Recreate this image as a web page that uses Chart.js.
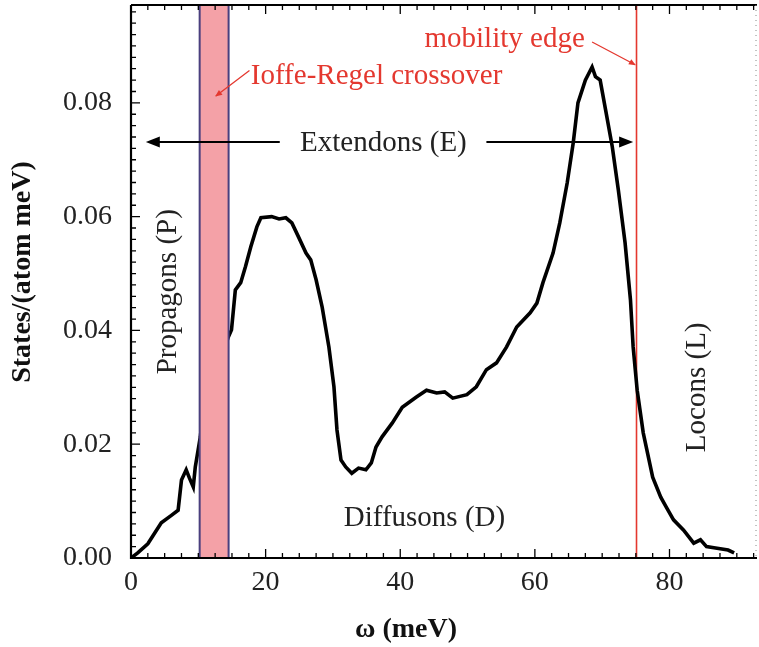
<!DOCTYPE html>
<html>
<head>
<meta charset="utf-8">
<script src="https://cdn.jsdelivr.net/npm/chart.js@4/dist/chart.umd.min.js"></script>
<style>
  html, body { margin: 0; padding: 0; background: #fff; }
  #wrap { width: 759px; height: 647px; }
</style>
</head>
<body>
<div id="wrap"><canvas id="dosChart" width="759" height="647"></canvas></div>
<script>
// phonon energy (meV) and density of states
const omega = [0, 1.0, 2.5, 4.5, 6.0, 7.0, 7.5, 8.2, 8.7, 9.25, 9.55, 10.3, 10.45,
  12.5, 14.48, 14.93, 15.5, 16.3, 17.0, 17.8, 18.7, 19.3, 20.9, 22.0, 23.0, 23.9,
  24.9, 26.0, 26.7, 27.5, 28.4, 29.4, 30.15, 30.6, 31.2, 31.9, 32.8, 33.8, 34.9,
  35.7, 36.4, 37.3, 38.8, 40.3, 42.4, 43.9, 45.4, 46.6, 47.8, 49.9, 51.3, 52.8,
  54.3, 55.8, 57.3, 59.3, 60.3, 61.2, 62.7, 63.7, 64.8, 65.7, 66.4, 67.5, 68.5,
  69.0, 69.7, 70.5, 71.5, 72.4, 73.4, 74.2, 74.6, 75.2, 76.1, 77.5, 78.7, 79.5,
  80.6, 82.1, 83.6, 84.6, 85.5, 86.6, 88.7, 89.6];
const dos = [0, 0.0009, 0.0025, 0.0062, 0.0075, 0.0084, 0.0137, 0.0155, 0.0140, 0.0125, 0.0160, 0.0213, 0.0230,
  0.0320, 0.0389, 0.0401, 0.0471, 0.0484, 0.0512, 0.0547, 0.0582, 0.0598, 0.0600, 0.0596, 0.0598, 0.0589,
  0.0564, 0.0536, 0.0524, 0.0489, 0.0441, 0.0371, 0.0301, 0.0225, 0.0172, 0.0160, 0.0149, 0.0158, 0.0155,
  0.0167, 0.0195, 0.0213, 0.0237, 0.0265, 0.0283, 0.0295, 0.0290, 0.0292, 0.0281, 0.0287, 0.0301, 0.0331,
  0.0343, 0.0371, 0.0406, 0.0431, 0.0448, 0.0484, 0.0536, 0.0589, 0.0659, 0.0730, 0.0800, 0.0840, 0.0863,
  0.0846, 0.0840, 0.0788, 0.0723, 0.0647, 0.0554, 0.0454, 0.0371, 0.0295, 0.0220, 0.0142, 0.0107, 0.0090,
  0.0067, 0.0049, 0.0026, 0.0032, 0.0020, 0.0018, 0.0014, 0.0009];

const xTicks = [0, 20, 40, 60, 80];
const yTicks = [0.00, 0.02, 0.04, 0.06, 0.08];

// regions marked on the figure
const ioffeRegel = [10.2, 14.5];
const mobilityEdge = 75.1;

const SERIF = '"Liberation Serif", "Times New Roman", serif';
const RED = '#e4382f';

function arrowHead(c, x1, y1, x2, y2, size, width) {
  const a = Math.atan2(y2 - y1, x2 - x1);
  c.beginPath();
  c.moveTo(x2, y2);
  c.lineTo(x2 - size * Math.cos(a) + width * Math.sin(a), y2 - size * Math.sin(a) - width * Math.cos(a));
  c.lineTo(x2 - size * Math.cos(a) - width * Math.sin(a), y2 - size * Math.sin(a) + width * Math.cos(a));
  c.closePath();
  c.fill();
}

function noPad(s) {
  s.paddingTop = 0; s.paddingBottom = 0; s.paddingLeft = 0; s.paddingRight = 0;
}

const decor = {
  id: 'decor',
  beforeDatasetsDraw(chart) {
    const c = chart.ctx, xs = chart.scales.x, a = chart.chartArea;
    c.save();
    // mobility edge line
    c.strokeStyle = RED;
    c.lineWidth = 1.6;
    const mx = xs.getPixelForValue(mobilityEdge);
    c.beginPath(); c.moveTo(mx, a.top); c.lineTo(mx, a.bottom); c.stroke();
    c.restore();
  },
  afterDatasetsDraw(chart) {
    const c = chart.ctx, xs = chart.scales.x, ys = chart.scales.y, a = chart.chartArea;
    const X = v => xs.getPixelForValue(v), Y = v => ys.getPixelForValue(v);
    c.save();

    // Ioffe-Regel band
    const bx1 = X(ioffeRegel[0]), bx2 = X(ioffeRegel[1]);
    c.fillStyle = '#f4a1a7';
    c.fillRect(bx1, a.top, bx2 - bx1, a.bottom - a.top);
    c.strokeStyle = '#4a3f7e';
    c.lineWidth = 2;
    c.beginPath();
    c.moveTo(bx1, a.top); c.lineTo(bx1, a.bottom);
    c.moveTo(bx2, a.top); c.lineTo(bx2, a.bottom);
    c.stroke();

    // frame: left, bottom, top solid; right dotted
    c.strokeStyle = '#000';
    c.lineWidth = 2.2;
    c.beginPath();
    c.moveTo(a.left, a.top); c.lineTo(a.right, a.top);
    c.moveTo(a.left, a.top); c.lineTo(a.left, a.bottom); c.lineTo(a.right, a.bottom);
    c.stroke();
    c.strokeStyle = '#888';
    c.lineWidth = 1;
    c.setLineDash([1, 4]);
    c.beginPath(); c.moveTo(a.right - 1, a.top); c.lineTo(a.right - 1, a.bottom); c.stroke();
    c.setLineDash([]);

    // inward ticks
    c.strokeStyle = '#000';
    c.lineWidth = 1.3;
    c.beginPath();
    for (let v = 0; v <= xs.max + 1e-9; v += 2.5) {
      const px = X(v);
      const len = (Math.abs(v % 20) < 1e-6) ? 9 : 5;
      c.moveTo(px, a.bottom); c.lineTo(px, a.bottom - len);
      c.moveTo(px, a.top); c.lineTo(px, a.top + len);
    }
    for (let i = 0; i * 0.002 <= ys.max + 1e-9; i++) {
      const py = Y(i * 0.002);
      const len = (i % 10 === 0) ? 9 : 5;
      c.moveTo(a.left, py); c.lineTo(a.left + len, py);
    }
    c.stroke();

    // Extendons arrow
    c.fillStyle = '#000';
    c.strokeStyle = '#000';
    c.lineWidth = 2;
    const ay = Y(0.0731);
    c.beginPath();
    c.moveTo(X(3.4), ay); c.lineTo(X(22.1), ay);
    c.moveTo(X(52.8), ay); c.lineTo(X(73.4), ay);
    c.stroke();
    arrowHead(c, X(5), ay, X(2.2), ay, 14, 5.5);
    arrowHead(c, X(72), ay, X(74.6), ay, 14, 5.5);

    // text labels
    c.font = '29px ' + SERIF;
    c.textBaseline = 'middle';
    c.textAlign = 'center';
    c.fillStyle = '#222';
    c.fillText('Extendons (E)', X(37.5), ay + 1);
    c.fillText('Diffusons (D)', X(43.6), Y(0.0070));

    c.save();
    c.translate(X(5.5), Y(0.0468));
    c.rotate(-Math.PI / 2);
    c.fillText('Propagons (P)', 0, 0);
    c.restore();

    c.save();
    c.translate(X(84.2), Y(0.0300));
    c.rotate(-Math.PI / 2);
    c.fillText('Locons (L)', 0, 0);
    c.restore();

    // red annotations
    c.fillStyle = RED;
    c.strokeStyle = RED;
    c.lineWidth = 1.3;
    c.textAlign = 'left';
    c.fillText('Ioffe-Regel crossover', X(17.8), Y(0.0846));
    c.fillText('mobility edge', X(43.6), Y(0.0911));

    c.beginPath();
    c.moveTo(X(17.6), Y(0.0857)); c.lineTo(X(12.6), Y(0.0812));
    c.moveTo(X(68.5), Y(0.0907)); c.lineTo(X(74.9), Y(0.0867));
    c.stroke();
    arrowHead(c, X(13.4), Y(0.0819), X(12.5), Y(0.0811), 7, 3);
    arrowHead(c, X(74.0), Y(0.0873), X(75.0), Y(0.0866), 7, 3);

    // axis titles
    c.fillStyle = '#111';
    c.font = 'bold 28px ' + SERIF;
    c.textAlign = 'center';
    c.fillText('\u03c9 (meV)', 406, 630);
    c.save();
    c.translate(23, 272);
    c.rotate(-Math.PI / 2);
    c.fillText('States/(atom meV)', 0, 0);
    c.restore();

    c.restore();
  }
};

const ctx = document.getElementById('dosChart').getContext('2d');
const chart = new Chart(ctx, {
  type: 'line',
  data: {
    datasets: [{
      data: omega.map((w, i) => ({ x: w, y: dos[i] })),
      borderColor: '#000',
      borderWidth: 3.6,
      pointRadius: 0,
      tension: 0,
      fill: false
    }]
  },
  options: {
    responsive: false,
    animation: false,
    layout: { padding: { top: 5, right: 2, left: 0, bottom: 0 } },
    plugins: { legend: { display: false }, tooltip: { enabled: false } },
    scales: {
      x: {
        type: 'linear',
        min: 0,
        max: 93,
        afterBuildTicks: s => { s.ticks = xTicks.map(v => ({ value: v })); },
        afterFit: s => { s.height = 89; noPad(s); },
        grid: { display: false, drawTicks: false },
        border: { display: false },
        ticks: {
          padding: 8,
          color: '#222',
          font: { family: SERIF, size: 28 },
          callback: v => String(v)
        }
      },
      y: {
        type: 'linear',
        min: 0,
        max: 0.0972,
        afterBuildTicks: s => { s.ticks = yTicks.map(v => ({ value: v })); },
        afterFit: s => { s.width = 131; noPad(s); },
        grid: { display: false, drawTicks: false },
        border: { display: false },
        ticks: {
          padding: 19,
          color: '#222',
          font: { family: SERIF, size: 28 },
          callback: v => Number(v).toFixed(2)
        }
      }
    }
  },
  plugins: [decor]
});
</script>
</body>
</html>
